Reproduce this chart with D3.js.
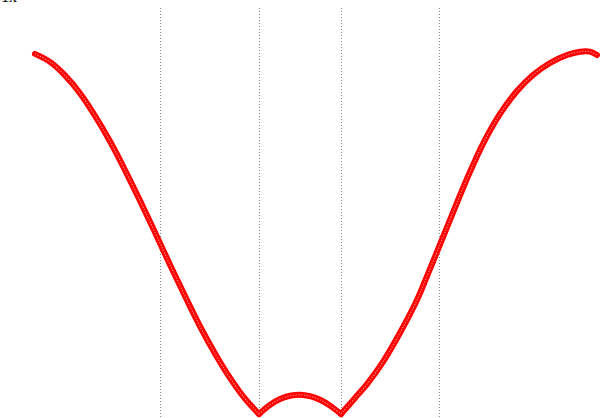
<!DOCTYPE html>
<html>
<head>
<meta charset="utf-8">
<script src="https://cdn.jsdelivr.net/npm/d3@7"></script>
<style>
  html, body { margin: 0; padding: 0; background: #fff; }
  svg { display: block; }
</style>
</head>
<body>
<svg id="chart" width="600" height="418"></svg>
<script>
// ---- data ----
const leftX  = [0.583, 0.833, 1.083, 1.333, 1.583, 1.833, 2.083, 2.333, 2.583, 2.833, 3.083, 3.333, 3.583, 3.833, 4.083, 4.317];
const leftY  = [0.989, 0.967, 0.930, 0.881, 0.819, 0.749, 0.670, 0.586, 0.499, 0.410, 0.324, 0.241, 0.166, 0.099, 0.042, 0.0];
const bumpX  = [4.317, 4.5, 4.667, 4.833, 5.0, 5.167, 5.333, 5.5, 5.683];
const bumpY  = [0.0, 0.025, 0.041, 0.050, 0.053, 0.049, 0.039, 0.023, 0.0];
const rightX = [5.683, 5.917, 6.117, 6.383, 6.667, 6.95, 7.133, 7.317, 7.5, 7.783, 8.05, 8.333, 8.617, 8.883, 9.167, 9.45, 9.667, 9.833, 9.95];
const rightY = [0.0, 0.044, 0.082, 0.143, 0.223, 0.313, 0.385, 0.459, 0.533, 0.646, 0.742, 0.824, 0.887, 0.931, 0.964, 0.986, 0.995, 0.995, 0.986];
const guideX = [2.667, 4.317, 5.683, 7.317];
const titleText = "1x";

// ---- layout ----
const W = 600, H = 418;
const svg = d3.select("#chart");
const x = d3.scaleLinear().domain([0, 10]).range([0, W]);
const y = d3.scaleLinear().domain([0, 1.115]).range([414, 8]);

// dotted guide lines
svg.append("g").selectAll("line").data(guideX).join("line")
  .attr("x1", d => Math.round(x(d)) + 0.5).attr("x2", d => Math.round(x(d)) + 0.5)
  .attr("y1", 8).attr("y2", H)
  .attr("stroke", "#8a8a8a").attr("stroke-width", 1)
  .attr("stroke-dasharray", "1,2");

// title fragment at top-left (cut off in the reference as well)
svg.append("text").attr("x", 1).attr("y", 2)
  .attr("font-family", "Liberation Serif, serif").attr("font-size", 16)
  .attr("fill", "#000").text(titleText);

const segs = [[leftX, leftY], [bumpX, bumpY], [rightX, rightY]].map(([xs, ys]) => xs.map((v, i) => [v, ys[i]]));
const line = d3.line().x(d => x(d[0])).y(d => y(d[1])).curve(d3.curveCatmullRom.alpha(0.5));

const g = svg.append("g");
g.selectAll("path.band").data(segs).join("path")
  .attr("class", "band")
  .attr("d", line)
  .attr("fill", "none").attr("stroke", "#ff0000")
  .attr("stroke-width", 6).attr("stroke-linecap", "round").attr("stroke-linejoin", "round");
g.selectAll("path.inner").data(segs).join("path")
  .attr("class", "inner")
  .attr("d", line)
  .attr("fill", "none").attr("stroke", "#ffffff").attr("stroke-opacity", 0.55)
  .attr("stroke-width", 1.2).attr("stroke-dasharray", "1.2,1.6");
</script>
</body>
</html>
